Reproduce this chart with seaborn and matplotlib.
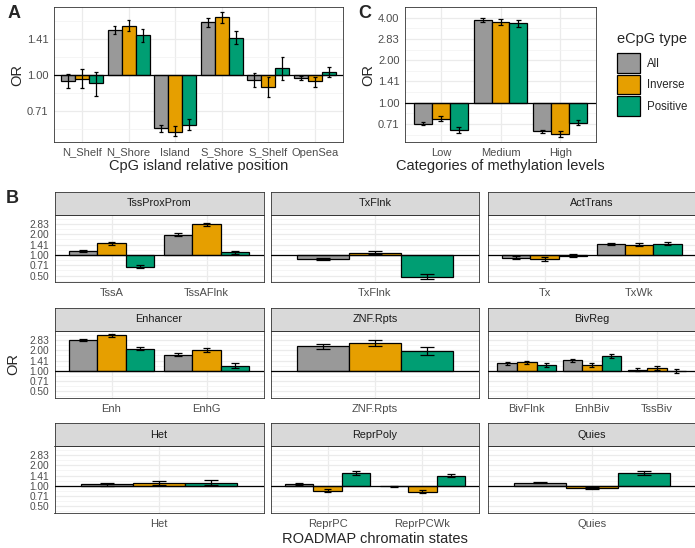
import numpy as np
import pandas as pd
import matplotlib
matplotlib.use("Agg")
import matplotlib.pyplot as plt
from matplotlib.patches import Patch
import seaborn as sns

# eCpG types and colours
types = ["All", "Inverse", "Positive"]
palette = {"All": "#999999", "Inverse": "#E69F00", "Positive": "#009E73"}

# panel A: CpG island relative position
cpg_positions = ["N_Shelf", "N_Shore", "Island", "S_Shore", "S_Shelf", "OpenSea"]
cpg_or_all = [0.94, 1.54, 0.60, 1.66, 0.95, 0.97]
cpg_lo_all = [0.88, 1.48, 0.578, 1.59, 0.89, 0.95]
cpg_hi_all = [1.007, 1.60, 0.618, 1.73, 1.016, 0.99]
cpg_or_inv = [0.965, 1.60, 0.58, 1.74, 0.895, 0.94]
cpg_lo_inv = [0.88, 1.52, 0.556, 1.65, 0.81, 0.89]
cpg_hi_inv = [1.06, 1.69, 0.612, 1.83, 0.984, 0.98]
cpg_or_pos = [0.923, 1.47, 0.62, 1.43, 1.07, 1.03]
cpg_lo_pos = [0.82, 1.38, 0.589, 1.35, 0.953, 0.98]
cpg_hi_pos = [1.03, 1.56, 0.655, 1.53, 1.185, 1.08]

# panel C: methylation level categories
meth_levels = ["Low", "Medium", "High"]
meth_or_all = [0.71, 3.85, 0.626]
meth_lo_all = [0.695, 3.71, 0.607]
meth_hi_all = [0.73, 3.95, 0.646]
meth_or_inv = [0.77, 3.75, 0.60]
meth_lo_inv = [0.74, 3.56, 0.576]
meth_hi_inv = [0.80, 3.91, 0.626]
meth_or_pos = [0.646, 3.64, 0.72]
meth_lo_pos = [0.61, 3.41, 0.695]
meth_hi_pos = [0.67, 3.83, 0.76]

# panel B: ROADMAP chromatin states grouped in facets
rm_facets = ["TssProxProm", "TxFlnk", "ActTrans", "Enhancer", "ZNF.Rpts",
             "BivReg", "Het", "ReprPoly", "Quies"]
rm_facet_states = [["TssA", "TssAFlnk"], ["TxFlnk"], ["Tx", "TxWk"],
                   ["Enh", "EnhG"], ["ZNF.Rpts"], ["BivFlnk", "EnhBiv", "TssBiv"],
                   ["Het"], ["ReprPC", "ReprPCWk"], ["Quies"]]
rm_states = [s for grp in rm_facet_states for s in grp]
rm_or_all = [1.14, 1.98, 0.874, 0.91, 1.46, 2.8, 1.73, 2.3, 1.29, 1.42, 1.04, 1.055, 1.067, 0.98, 1.11]
rm_lo_all = [1.10, 1.89, 0.83, 0.88, 1.41, 2.70, 1.66, 2.08, 1.23, 1.36, 1.00, 0.99, 1.02, 0.96, 1.08]
rm_hi_all = [1.18, 2.07, 0.914, 0.95, 1.51, 2.90, 1.81, 2.48, 1.34, 1.48, 1.09, 1.11, 1.11, 1.00, 1.15]
rm_or_inv = [1.48, 2.81, 1.08, 0.87, 1.42, 3.3, 2.04, 2.56, 1.33, 1.23, 1.09, 1.09, 0.84, 0.82, 0.94]
rm_lo_inv = [1.42, 2.68, 1.02, 0.82, 1.36, 3.15, 1.91, 2.32, 1.26, 1.15, 1.03, 1.01, 0.80, 0.78, 0.91]
rm_hi_inv = [1.55, 2.97, 1.14, 0.92, 1.48, 3.45, 2.18, 2.86, 1.40, 1.31, 1.17, 1.16, 0.89, 0.87, 0.97]
rm_or_pos = [0.675, 1.09, 0.48, 0.97, 1.46, 2.1, 1.19, 1.93, 1.2, 1.65, 0.98, 1.11, 1.56, 1.41, 1.53]
rm_lo_pos = [0.64, 1.02, 0.44, 0.92, 1.39, 2.0, 1.09, 1.69, 1.13, 1.55, 0.92, 1.02, 1.46, 1.34, 1.43]
rm_hi_pos = [0.71, 1.16, 0.53, 1.04, 1.54, 2.22, 1.32, 2.2, 1.31, 1.77, 1.07, 1.2, 1.65, 1.51, 1.63]


def make_long(labels, ors, los, his):
    rows = []
    for t, o, l, h in zip(types, ors, los, his):
        for i, lab in enumerate(labels):
            rows.append({"label": lab, "type": t, "OR": o[i], "lo": l[i], "hi": h[i]})
    d = pd.DataFrame(rows)
    d["log2"] = np.log2(d["OR"])
    return d


df_a = make_long(cpg_positions, [cpg_or_all, cpg_or_inv, cpg_or_pos],
                 [cpg_lo_all, cpg_lo_inv, cpg_lo_pos], [cpg_hi_all, cpg_hi_inv, cpg_hi_pos])
df_c = make_long(meth_levels, [meth_or_all, meth_or_inv, meth_or_pos],
                 [meth_lo_all, meth_lo_inv, meth_lo_pos], [meth_hi_all, meth_hi_inv, meth_hi_pos])
df_b = make_long(rm_states, [rm_or_all, rm_or_inv, rm_or_pos],
                 [rm_lo_all, rm_lo_inv, rm_lo_pos], [rm_hi_all, rm_hi_inv, rm_hi_pos])

sns.set_style("white")
plt.rcParams['font.family'] = ['Liberation Sans', 'DejaVu Sans']

W, H = 695, 548
fig = plt.figure(figsize=(W / 100, H / 100), dpi=100)


def px_axes(l, t, r, b):
    return fig.add_axes([l / W, 1 - b / H, (r - l) / W, (b - t) / H])


def style_axes(ax, ticks, ylim, ylabelsize=8):
    ax.set_ylim(*ylim)
    ax.set_yticks(ticks)
    ax.set_yticklabels([f"{2 ** t:.2f}" for t in ticks])
    ax.set_yticks([t + 0.25 for t in ticks[:-1]] + [ticks[0] - 0.25, ticks[-1] + 0.25], minor=True)
    ax.set_axisbelow(True)
    ax.grid(which="major", color="#EBEBEB", lw=0.9)
    ax.grid(which="minor", axis="y", color="#F2F2F2", lw=0.5)
    ax.tick_params(which="major", length=2.5, width=0.6, color="#333333",
                   labelsize=8, labelcolor="#4D4D4D", pad=1.5)
    ax.tick_params(axis="y", labelsize=ylabelsize)
    ax.tick_params(which="minor", length=0)
    for s in ax.spines.values():
        s.set_color("#333333")
        s.set_linewidth(0.6)
    ax.set_xlabel("")
    ax.set_ylabel("")


def draw_bars(ax, d, order):
    sns.barplot(data=d, x="label", y="log2", hue="type", order=order, hue_order=types,
                palette=palette, saturation=1, width=0.9, edgecolor="black", linewidth=0.9,
                errorbar=None, legend=False, ax=ax)
    ax.axhline(0, color="black", lw=0.9, zorder=3)
    cap = 0.04
    for i, lab in enumerate(order):
        for j, t in enumerate(types):
            r = d[(d["label"] == lab) & (d["type"] == t)].iloc[0]
            x = i + (j - 1) * 0.3
            lo, hi = np.log2(r["lo"]), np.log2(r["hi"])
            ax.vlines(x, lo, hi, color="black", lw=0.9, zorder=4)
            ax.hlines([lo, hi], x - cap, x + cap, color="black", lw=0.9, zorder=4)
    ax.set_xlim(-0.6, len(order) - 0.4)


# panel A
ax_a = px_axes(54, 7, 343, 142)
draw_bars(ax_a, df_a, cpg_positions)
style_axes(ax_a, [-0.5, 0, 0.5], (-0.93, 0.944))
ax_a.set_xlabel("CpG island relative position", fontsize=10.5, labelpad=1)
ax_a.set_ylabel("OR", fontsize=10.5, labelpad=2)

# panel C
ax_c = px_axes(405, 7, 596, 142)
draw_bars(ax_c, df_c, meth_levels)
style_axes(ax_c, [-0.5, 0, 0.5, 1.0, 1.5, 2.0], (-0.923, 2.13))
ax_c.set_xlabel("Categories of methylation levels", fontsize=10.5, labelpad=1)
ax_c.set_ylabel("OR", fontsize=10.5, labelpad=2)

# legend
handles = [Patch(facecolor=palette[t], edgecolor="black", linewidth=0.9, label=t) for t in types]
leg = fig.legend(handles=handles, title="eCpG type", loc="upper left",
                 bbox_to_anchor=(615 / W, 1 - 30 / H), frameon=False, fontsize=8.3,
                 title_fontsize=10.5, handlelength=2.0, handleheight=2.2,
                 labelspacing=0.2, handletextpad=0.6, alignment="left", borderaxespad=0,
                 borderpad=0.2)
leg._legend_box.sep = 5

# panel B facets
col_lr = [(54.5, 263.5), (270.7, 479.3), (487.7, 696)]
row_tb = [(215, 282.3), (331, 398), (446, 513)]
strip_h = 23
b_ticks = [-1.0, -0.5, 0, 0.5, 1.0, 1.5]
for k, (facet, states) in enumerate(zip(rm_facets, rm_facet_states)):
    r, c = divmod(k, 3)
    l, rr = col_lr[c]
    t, b = row_tb[r]
    ax = px_axes(l, t, rr, b)
    draw_bars(ax, df_b[df_b["label"].isin(states)], states)
    style_axes(ax, b_ticks, (-1.33, 1.94), ylabelsize=7.3)
    if c != 0:
        ax.set_yticklabels([])
        ax.tick_params(axis="y", length=0)
    strip = px_axes(l, t - strip_h, rr, t)
    strip.set_facecolor("#D9D9D9")
    strip.set_xticks([])
    strip.set_yticks([])
    for s in strip.spines.values():
        s.set_color("#333333")
        s.set_linewidth(0.6)
    strip.text(0.5, 0.5, facet, ha="center", va="center", fontsize=7.8,
               color="#1A1A1A", transform=strip.transAxes)

fig.text(13 / W, 1 - 364 / H, "OR", rotation=90, ha="center", va="center", fontsize=10.5)
fig.text(375 / W, 1 - 539 / H, "ROADMAP chromatin states", ha="center", va="center", fontsize=10.5)

# panel letters
fig.text(14 / W, 1 - 13 / H, "A", ha="center", va="center", fontsize=13, fontweight="bold")
fig.text(365 / W, 1 - 13 / H, "C", ha="center", va="center", fontsize=13, fontweight="bold")
fig.text(12 / W, 1 - 199 / H, "B", ha="center", va="center", fontsize=13, fontweight="bold")

fig.savefig("out.png", dpi=100)
